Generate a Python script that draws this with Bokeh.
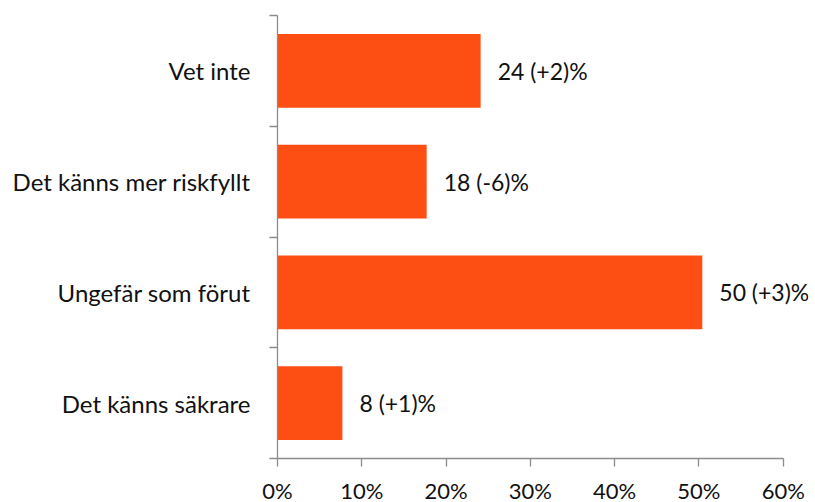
from bokeh.plotting import figure
from bokeh.models import FixedTicker, Range1d
from bokeh.core.properties import value
from bokeh.embed import file_html
from bokeh.resources import INLINE

# Data (bottom to top)
categories = ["Det känns säkrare", "Ungefär som förut", "Det känns mer riskfyllt", "Vet inte"]
shares = [7.7, 50.4, 17.7, 24.1]
bar_labels = ["8 (+1)%", "50 (+3)%", "18 (-6)%", "24 (+2)%"]
x_ticks = [0, 10, 20, 30, 40, 50, 60]

FONT = "Lato"
BAR_COLOR = "#FD4E14"
AXIS_COLOR = "#8C8C8C"

centers = [i + 0.5 for i in range(len(categories))]
boundaries = list(range(len(categories) + 1))

p = figure(
    width=813, height=500,
    frame_width=531, frame_height=443,
    min_border_left=277, min_border_top=15, min_border_right=5, min_border_bottom=10,
    x_range=Range1d(0, 63), y_range=Range1d(0, len(categories)),
    output_backend="svg", toolbar_location=None,
)
p.outline_line_color = None
p.xgrid.visible = False
p.ygrid.visible = False
p.background_fill_color = "white"
p.border_fill_color = "white"

p.hbar(y=centers, right=shares, left=0, height=0.664, fill_color=BAR_COLOR, line_color=None)

p.text(x=shares, y=centers, text=bar_labels, x_offset=17,
       text_baseline="middle", text_align="left",
       text_font=value(FONT), text_font_size="23px", text_color="#111111")

# X axis
xa = p.xaxis[0]
xa.ticker = FixedTicker(ticks=x_ticks)
xa.major_label_overrides = {t: f"{t}%" for t in x_ticks}
xa.bounds = (0, 60)
xa.axis_line_color = AXIS_COLOR
xa.axis_line_width = 1.3
xa.major_tick_line_color = AXIS_COLOR
xa.major_tick_line_width = 1.3
xa.major_tick_out = 8
xa.major_tick_in = 0
xa.minor_tick_line_color = None
xa.major_label_text_font = FONT
xa.major_label_text_font_size = "22px"
xa.major_label_text_color = "#111111"
xa.major_label_standoff = 10

# Y axis: labels at centers, tick marks at category boundaries
ya = p.yaxis[0]
ya.ticker = FixedTicker(ticks=centers, minor_ticks=boundaries)
ya.major_label_overrides = {c: cat for c, cat in zip(centers, categories)}
ya.axis_line_color = AXIS_COLOR
ya.axis_line_width = 1.3
ya.major_tick_line_color = None
ya.major_tick_out = 0
ya.major_tick_in = 0
ya.minor_tick_line_color = AXIS_COLOR
ya.minor_tick_line_width = 1.3
ya.minor_tick_out = 8
ya.minor_tick_in = 0
ya.major_label_text_font = FONT
ya.major_label_text_font_size = "24px"
ya.major_label_text_color = "#111111"
ya.major_label_standoff = 19

open("out.html", "w").write(file_html(p, INLINE))
